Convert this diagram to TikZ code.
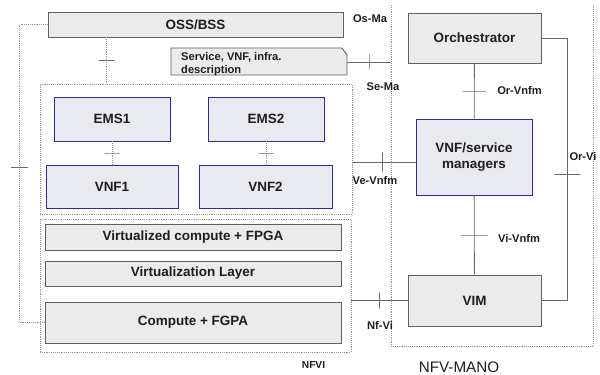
\documentclass[tikz,border=0pt]{standalone}
\usepackage{fontspec}
\setmainfont{Liberation Sans}
\usetikzlibrary{calc}
\definecolor{boxgray}{RGB}{235,235,235}
\definecolor{bluegray}{RGB}{233,233,240}
\definecolor{edgegray}{RGB}{95,95,95}
\definecolor{linegray}{RGB}{105,105,105}
\definecolor{dotgray}{RGB}{150,150,150}
\definecolor{navyline}{RGB}{45,45,150}
\definecolor{textgray}{RGB}{30,30,30}

\begin{document}
\begin{tikzpicture}[x=0.03cm, y=-0.03cm, text=textgray,
    graybox/.style={draw=edgegray, fill=boxgray, line width=0.8pt, font=\bfseries\fontsize{11.5}{13}\selectfont},
    bluebox/.style={draw=navyline, fill=bluegray, line width=0.8pt, font=\bfseries\fontsize{11.5}{13}\selectfont},
    dotbox/.style={draw=dotgray, densely dotted, line width=0.6pt},
    iface/.style={draw=linegray, line width=0.7pt},
    htick/.style={draw=linegray, solid, line width=0.7pt, inner sep=0pt, minimum height=0pt, minimum width=#1},
    htick/.default=0.48cm,
    vtick/.style={draw=linegray, solid, line width=0.7pt, inner sep=0pt, minimum width=0pt, minimum height=#1},
    vtick/.default=0.48cm,
    reflabel/.style={font=\bfseries\fontsize{9.5}{10.5}\selectfont}]
    \useasboundingbox (0,0) rectangle (600,375);

    % Outer groupings
    \node[dotbox, minimum width=9.36cm, minimum height=3.9cm] (vnfbox) at (196,149) {};
    \node[dotbox, minimum width=9.33cm, minimum height=3.99cm] (nfvi) at (195.5,285.5) {};
    \draw[dotbox] (391,5) -- (391,346) -- (593,346) -- (593,5);

    % Main components
    \node[graybox, minimum width=8.85cm, minimum height=0.75cm] (oss) at (195.5,24.5) {OSS/BSS};

    \draw[draw=edgegray, fill=boxgray, line width=0.8pt] (171,48) -- (342,48) -- (347,55) -- (347,75) -- (171,75) -- cycle;
    \node[reflabel, anchor=west, align=left, inner sep=0pt] (desc) at (181,64) {Service, VNF, infra.\\description};

    \node[bluebox, minimum width=3.48cm, minimum height=1.32cm] (ems1) at (112,119) {EMS1};
    \node[bluebox, minimum width=3.48cm, minimum height=1.32cm] (ems2) at (266,119) {EMS2};
    \node[bluebox, minimum width=3.96cm, minimum height=1.29cm] (vnf1) at (112,186.5) {VNF1};
    \node[bluebox, minimum width=3.99cm, minimum height=1.29cm] (vnf2) at (265.5,186.5) {VNF2};

    \node[graybox, minimum width=8.88cm, minimum height=0.78cm] (vcomp) at (193,237) {Virtualized compute + FPGA};
    \node[graybox, minimum width=8.88cm, minimum height=0.75cm] (vlayer) at (193,273.5) {Virtualization Layer};
    \node[graybox, minimum width=8.88cm, minimum height=1.23cm] (compute) at (193,322.5) {Compute + FGPA};

    \node[graybox, minimum width=3.99cm, minimum height=1.5cm] (orch) at (474.5,38) {Orchestrator};
    \node[bluebox, minimum width=3.48cm, minimum height=2.28cm, align=center] (vnfm) at (474,157) {VNF/service\\managers};
    \node[graybox, minimum width=3.99cm, minimum height=1.53cm] (vim) at (474.5,300.5) {VIM};

    % Reference points
    \draw[dotbox] (oss.west) -- ++(-28,0) coordinate (ossl) -- node[htick=0.5cm, pos=0.48] {} (ossl |- compute.west) -- (compute.west);
    \draw[dotbox] ($(oss.south west)!0.2!(oss.south east)$) coordinate (ossd) -- node[htick] {} (ossd |- vnfbox.north);
    \draw[dotbox] (ems1) -- node[htick=0.45cm] {} (vnf1);
    \draw[dotbox] (ems2.south) -- node[htick=0.45cm] {} (ems2.south |- vnf2.north);
    \draw[iface] (347,62) coordinate (descr) -- node[vtick=0.45cm] {} (descr -| 391,0);
    \draw[iface] (vnfbox.east |- 0,162) -- node[vtick=0.57cm, pos=0.47] {} (vnfm.west |- 0,162);
    \draw[iface] (orch) -- node[htick=0.7cm] {} (vnfm);
    \draw[iface] (vnfm) -- node[htick=0.8cm] {} (vim);
    \draw[iface] (orch.east) -- ++(26,0) -- node[htick=0.78cm, pos=0.52] {} ($(vim.east)+(26,0)$) -- (vim.east);
    \draw[iface] (nfvi.east |- vim.west) -- node[vtick] {} (vim.west);

    % Labels
    \node[reflabel] (osma) at (370,19) {Os-Ma};
    \node[reflabel] (sema) at (383,87) {Se-Ma};
    \node[reflabel] (vevnfm) at (375,181) {Ve-Vnfm};
    \node[reflabel] (orvnfm) at (519.5,91) {Or-Vnfm};
    \node[reflabel] (vivnfm) at (519,238) {Vi-Vnfm};
    \node[reflabel] (orvi) at (583,157) {Or-Vi};
    \node[reflabel] (nfvil) at (380,325) {Nf-Vi};
    \node[font=\bfseries\fontsize{8.7}{10}\selectfont] (nfvilabel) at (313.5,365) {NFVI};
    \node[font=\fontsize{13}{15}\selectfont] (manolabel) at (459,367) {NFV-MANO};
\end{tikzpicture}
\end{document}
